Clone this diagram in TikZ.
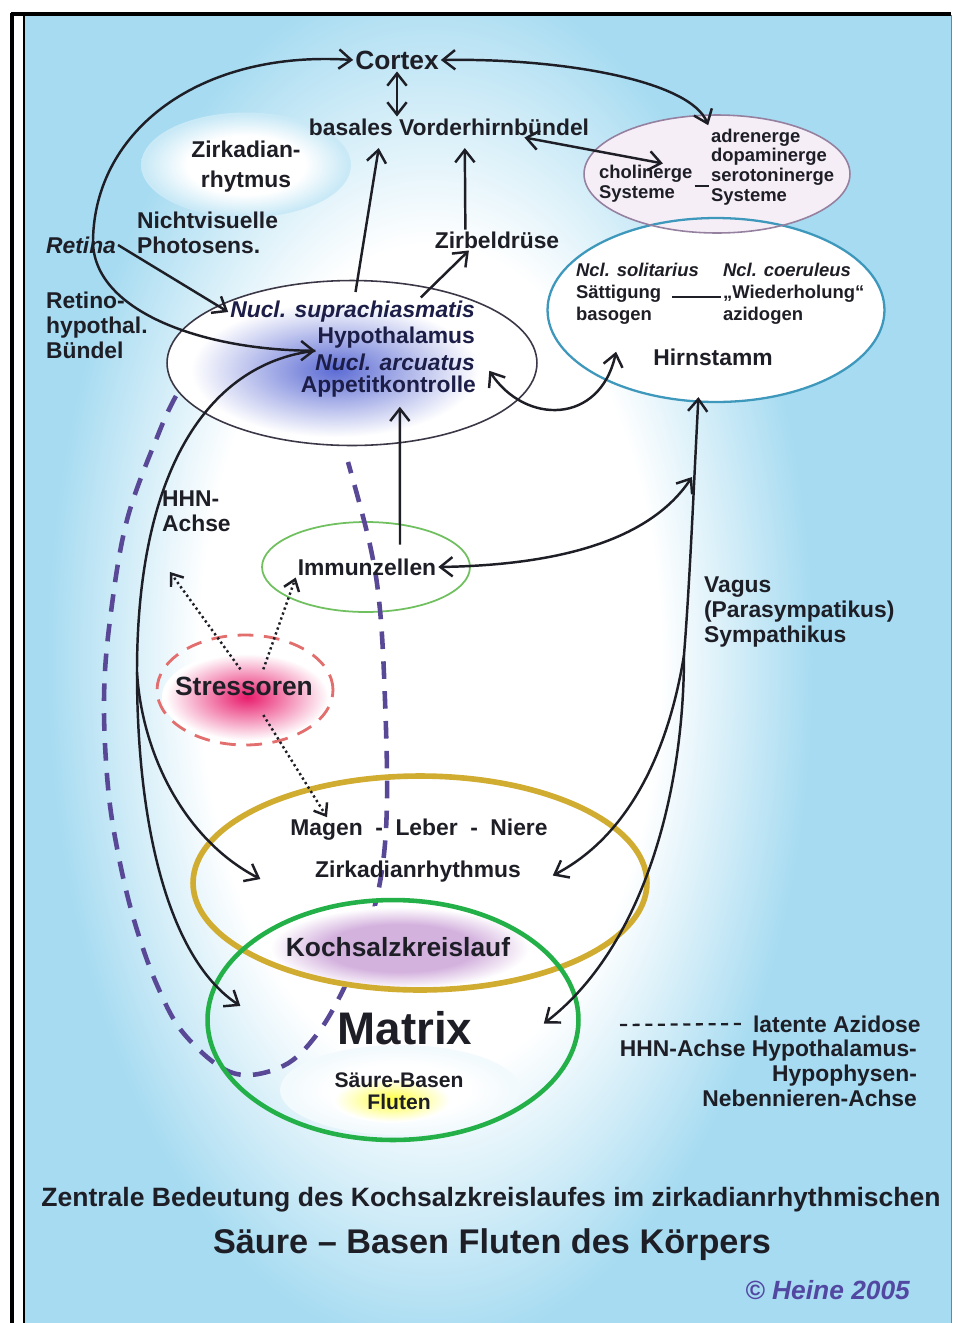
\documentclass[tikz,border=0pt]{standalone}
\usepackage{fontspec}
\setmainfont{Liberation Sans}
\usetikzlibrary{shapes.geometric,arrows.meta,positioning,calc}

\definecolor{bgblue}{RGB}{166,219,241}
\definecolor{txt}{RGB}{30,30,38}
\definecolor{navy}{RGB}{28,30,72}
\definecolor{azcol}{RGB}{88,72,150}
\definecolor{gold}{RGB}{208,172,48}
\definecolor{matgreen}{RGB}{36,176,72}
\definecolor{immgreen}{RGB}{112,192,96}
\definecolor{teal2}{RGB}{62,152,188}
\definecolor{lilac}{RGB}{212,178,222}
\definecolor{stresspink}{RGB}{232,28,108}
\definecolor{stressline}{RGB}{226,110,110}
\definecolor{glowblue}{RGB}{92,108,212}
\definecolor{hypoline}{RGB}{60,55,70}
\definecolor{adrfill}{RGB}{246,238,247}
\definecolor{adrline}{RGB}{150,128,160}
\definecolor{heine}{RGB}{82,72,162}
\colorlet{glowin}{white}
\colorlet{glowout}{white}

% shadings for background and soft glows (path box = 25bp half size)
\pgfdeclareradialshading{bgglow}{\pgfpointorigin}{color(0bp)=(white); color(9.6bp)=(white); color(16bp)=(bgblue); color(50bp)=(bgblue)}
\pgfdeclareradialshading[glowin,glowout]{plateau}{\pgfpointorigin}{color(0bp)=(glowin); color(14bp)=(glowin); color(24bp)=(glowout); color(50bp)=(glowout)}
\pgfdeclareradialshading[glowin,glowout]{blob}{\pgfpointorigin}{color(0bp)=(glowin); color(24bp)=(glowout); color(50bp)=(glowout)}

\begin{document}
\begin{tikzpicture}[x=0.02cm, y=-0.02cm,
    lbl/.style={font=\fontsize{13}{14.2}\selectfont\bfseries, text=txt, inner sep=1pt},
    itl/.style={lbl, font=\fontsize{13}{14.2}\selectfont\bfseries\itshape},
    hyptxt/.style={lbl, text=navy},
    smalltxt/.style={font=\fontsize{10.5}{11.2}\selectfont\bfseries, text=txt, inner sep=1pt},
    bigtxt/.style={font=\fontsize{15}{17}\selectfont\bfseries, text=txt, inner sep=1pt},
    oval/.style={ellipse, inner sep=0pt},
    arr/.style={-{Straight Barb[length=7pt,width=11pt]}, line width=1.4pt, draw=txt},
    dbl/.style={{Straight Barb[length=7pt,width=11pt]}-{Straight Barb[length=7pt,width=11pt]}, line width=1.4pt, draw=txt},
    dotarr/.style={-{Straight Barb[length=6pt,width=9pt]}, line width=1.4pt, dash pattern=on 1.3pt off 1.7pt, draw=txt},
    azid/.style={draw=azcol, line width=2.6pt, dash pattern=on 10pt off 7pt},
]
% frame and background
\useasboundingbox (0,0) rectangle (959,1323);
\fill[white] (0,0) rectangle (959,1323);
\begin{scope}
  \clip (25,16) rectangle (951,1323);
  \shade[shading=bgglow] (-170,-420) rectangle (1030,1740);
\end{scope}
\draw[line width=1.8pt] (12,13) -- (12,1323);
\draw[line width=0.6pt] (24,16) -- (24,1323);
\draw[line width=1.8pt] (11,14) -- (951,14);
\draw[gray, line width=0.5pt] (951,15) -- (951,1323);

% glows and ovals
\colorlet{glowin}{white}\colorlet{glowout}{bgblue!60!white}
\shade[shading=plateau] (246,165) ellipse [x radius=2.1cm, y radius=1.05cm];
\node[oval, draw=hypoline, line width=0.9pt, fill=white, minimum width=7.4cm, minimum height=3.3cm] (hypo) at (352,363) {};
\begin{scope}
  \clip (hypo.center) ellipse [x radius=3.68cm, y radius=1.63cm];
  \colorlet{glowin}{glowblue}\colorlet{glowout}{white}
  \shade[shading=blob] (335,370) ellipse [x radius=3cm, y radius=1.4cm];
\end{scope}
\node[oval, fill=white, minimum width=6.74cm, minimum height=3.68cm] (hirn) at (716,310) {};
\node[oval, fill=adrfill, minimum width=5.32cm, minimum height=2.36cm] (adr) at (717,174) {};
\draw[teal2, line width=1.3pt] (hirn.center) ellipse [x radius=3.37cm, y radius=1.84cm];
\draw[adrline, line width=0.9pt] (adr.center) ellipse [x radius=2.66cm, y radius=1.18cm];
\node[oval, draw=immgreen, line width=1pt, minimum width=4.16cm, minimum height=1.8cm] (immun) at (366,567) {};
\colorlet{glowin}{stresspink}\colorlet{glowout}{white}
\shade[shading=blob] (247,697) ellipse [x radius=1.7cm, y radius=0.9cm];
\node[oval, draw=stressline, line width=1.6pt, dash pattern=on 9pt off 6pt, minimum width=3.52cm, minimum height=2.2cm] (stress) at (245,690) {};

% latente Azidose loop
\draw[azid] plot[smooth, tension=0.6] coordinates {(176,396) (160,430) (127,520) (110,620) (104,700) (108,787) (118,853) (134,920) (157,985) (185,1035) (233,1073) (283,1066) (318,1033) (347,982) (368,930) (382,870) (387,800) (385,700) (380,610) (370,545) (348,462)};

\colorlet{glowin}{lilac}\colorlet{glowout}{white}
\shade[shading=plateau] (400,948) ellipse [x radius=2.7cm, y radius=0.85cm];
\colorlet{glowin}{white}\colorlet{glowout}{bgblue!15!white}
\shade[shading=plateau] (400,1090) ellipse [x radius=2.4cm, y radius=0.9cm];
\colorlet{glowin}{yellow!75!white}\colorlet{glowout}{white}
\shade[shading=blob] (392,1100) ellipse [x radius=1.2cm, y radius=0.45cm];
\node[oval, draw=gold, line width=3.2pt, minimum width=9.08cm, minimum height=4.28cm] (magen) at (420,883) {};
\node[oval, draw=matgreen, line width=2.6pt, minimum width=7.42cm, minimum height=4.8cm] (matrix) at (393,1020) {};

% texts
\node[bigtxt] (cortex) at (397,60) {Cortex};
\node[lbl] (bvb) at (449,127) {basales Vorderhirnbündel};
\node[lbl, align=center, font=\fontsize{13}{17}\selectfont\bfseries] (zirk) at (246,167) {Zirkadian-\\rhytmus};
\node[lbl, align=left, anchor=west] (nvp) at (135,233) {Nichtvisuelle\\Photosens.};
\node[itl, anchor=west] (retina) at (44,245) {Retina};
\node[lbl, align=left, anchor=west] (rhb) at (44,325) {Retino-\\hypothal.\\Bündel};
\node[hyptxt, itl, text=navy, anchor=east] (supra) at (477,312) {Nucl. suprachiasmatis};
\node[hyptxt, anchor=east] (hyth) at (477,338) {Hypothalamus};
\node[hyptxt, itl, text=navy, anchor=east] (arc) at (477,362) {Nucl. arcuatus};
\node[hyptxt, anchor=east] (appk) at (478,387) {Appetitkontrolle};
\node[lbl] (zirb) at (497,240) {Zirbeldrüse};
\node[smalltxt, align=left, anchor=west] (chol) at (597,184) {cholinerge\\Systeme};
\node[smalltxt, align=left, anchor=west] (adrt) at (709,167) {adrenerge\\dopaminerge\\serotoninerge\\Systeme};
\node[smalltxt, font=\fontsize{10.5}{12.5}\selectfont\bfseries, align=left, anchor=west] (nsol) at (574,294) {\textit{Ncl. solitarius}\\Sättigung\\basogen};
\node[smalltxt, font=\fontsize{10.5}{12.5}\selectfont\bfseries, align=left, anchor=west] (ncoe) at (721,294) {\textit{Ncl. coeruleus}\\„Wiederholung“\\azidogen};
\node[lbl] (hirnt) at (713,357) {Hirnstamm};
\node[lbl, align=left, anchor=west] (vagus) at (702,612) {Vagus\\(Parasympatikus)\\Sympathikus};
\node[lbl] (immt) at (367,567) {Immunzellen};
\node[lbl, align=left, anchor=west] (hhn) at (160,511) {HHN-\\Achse};
\node[bigtxt] (stresst) at (244,686) {Stressoren};
\node[lbl] (mlnt) at (419,830) {Magen\hspace{0.55em}-\hspace{0.55em}Leber\hspace{0.55em}-\hspace{0.55em}Niere};
\node[lbl] (zrt) at (418,872) {Zirkadianrhythmus};
\node[bigtxt] (koch) at (398,947) {Kochsalzkreislauf};
\node[lbl, font=\fontsize{26}{28}\selectfont\bfseries] (matrixt) at (405,1028) {Matrix};
\node[lbl, align=center, font=\fontsize{12}{12.5}\selectfont\bfseries] (sbf) at (399,1091) {Säure-Basen\\Fluten};
\node[lbl, anchor=west] (lat) at (751,1024) {latente Azidose};
\node[lbl, align=right, anchor=east] (hhnleg) at (919,1073) {HHN-Achse Hypothalamus-\\Hypophysen-\\Nebennieren-Achse};
\node[lbl, font=\fontsize{15.1}{17}\selectfont\bfseries] (t1) at (491,1200) {Zentrale Bedeutung des Kochsalzkreislaufes im zirkadianrhythmischen};
\node[lbl, font=\fontsize{19.5}{22}\selectfont\bfseries] (t2) at (492,1245) {Säure – Basen Fluten des Körpers};
\node[lbl, text=heine, font=\fontsize{15}{17}\selectfont\bfseries\itshape, anchor=east] (heine) at (912,1290) {© Heine 2005};

% free ends and split points
\coordinate (hhnpt) at (170,572);
\coordinate (lsplit) at (137,672);
\coordinate (rsplit) at (684,655);
\coordinate (vagpt) at (692,477);
\coordinate (legL) at (620,1025);

% connectors
\draw[dbl] (cortex.west) .. controls (200,50) and (95,130) .. (93,240) .. controls (92,310) and (200,350) .. (hyth.south west);
\draw[arr] (retina.east) -- (supra.west);
\draw[dbl] (cortex.south) -- (cortex.south |- bvb.north);
\draw[dbl] (cortex.east) .. controls (560,58) and (690,80) .. ([xshift=-5pt,yshift=-6pt]adr.north);
\draw[dbl] ([xshift=-38pt]bvb.south east) -- ([xshift=-18pt]chol.north east);
\draw[arr] ([xshift=2pt,yshift=-7pt]hypo.north) -- ([xshift=-40pt,yshift=-6pt]bvb.south);
\draw[arr] ([xshift=-32pt,yshift=1pt]supra.north east) -- ([xshift=-16pt]zirb.south);
\draw[arr] ([xshift=-18pt]zirb.north) -- ([xshift=9pt,yshift=-6pt]bvb.south);
\draw[dbl] ([xshift=7pt,yshift=-5pt]arc.east) .. controls (525,425) and (600,425) .. ([xshift=-20pt,yshift=3pt]hirnt.west);
\draw[arr] ($(immt.north)+(33,-12)$) -- ($(appk.south)+(11.5,7)$);
\draw[line width=1.2pt, draw=txt] ([yshift=-1pt]chol.east) -- ([yshift=-1pt]chol.east -| adrt.west);
\draw[line width=1.2pt, draw=txt] ($(nsol.west)+(98,3)$) -- ($(ncoe.west)+(0,3)$);
% HHN axis, left side
\draw[line width=1.4pt, draw=txt] (hyth.south west) .. controls (215,362) and (137,460) .. (lsplit);
\draw[arr] (lsplit) .. controls (142,755) and (185,840) .. ([xshift=-30pt,yshift=-4pt]zrt.west);
\draw[arr] (lsplit) .. controls (137,830) and (170,960) .. ([xshift=20pt,yshift=8pt]matrix.west);
% Vagus / Sympathikus, right side
\draw[arr] (rsplit) .. controls (690,580) and (694,480) .. ([xshift=-10pt,yshift=3pt]hirn.south);
\draw[arr] (rsplit) .. controls (672,730) and (640,830) .. ([xshift=17pt,yshift=-2pt]zrt.east);
\draw[arr] (rsplit) .. controls (684,800) and (640,950) .. ([xshift=-21pt,yshift=-2pt]matrix.east);
\draw[dbl] (immt.east) .. controls (560,565) and (650,540) .. (vagpt);
% stressors
\draw[dotarr] ([xshift=-2pt,yshift=3pt]stresst.north) -- (hhnpt);
\draw[dotarr] ([xshift=11pt,yshift=3pt]stresst.north) -- (immt.south west);
\draw[dotarr] ([xshift=11pt,yshift=-10pt]stresst.south) -- ([xshift=22pt]mlnt.north west);
% legend sample
\draw[draw=txt, line width=1.3pt, dash pattern=on 4pt off 3.2pt] (legL) -- ([xshift=-5pt]lat.west);
\end{tikzpicture}
\end{document}
